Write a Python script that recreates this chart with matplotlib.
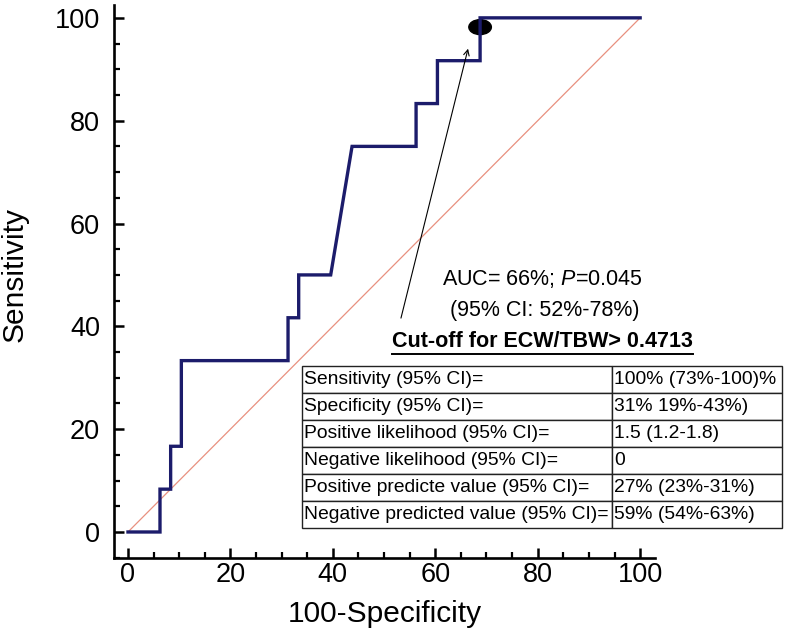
import matplotlib
matplotlib.use("Agg")
import matplotlib.pyplot as plt
from matplotlib.patches import Ellipse
from matplotlib.lines import Line2D
from matplotlib.ticker import MultipleLocator

# -----------------------------
# Data
# -----------------------------
fpr = [0, 6.25, 6.25, 8.33, 8.33, 10.42, 10.42, 31.25, 31.25, 33.33, 33.33,
       39.58, 43.75, 56.25, 56.25, 60.42, 60.42, 68.75, 68.75, 100]
tpr = [0, 0, 8.33, 8.33, 16.67, 16.67, 33.33, 33.33, 41.67, 41.67, 50,
       50, 75, 75, 83.33, 83.33, 91.67, 91.67, 100, 100]

ref_line = [0, 100]
cutoff_point = (68.75, 98.2)

auc_text = "AUC= 66%; $\\mathit{P}$=0.045"
ci_text = "(95% CI: 52%-78%)"
cutoff_text = "Cut-off for ECW/TBW> 0.4713"

row_labels = ["Sensitivity (95% CI)=", "Specificity (95% CI)=",
              "Positive likelihood (95% CI)=", "Negative likelihood (95% CI)=",
              "Positive predicte value (95% CI)=",
              "Negative predicted value (95% CI)="]
row_values = ["100% (73%-100)%", "31% 19%-43%)", "1.5 (1.2-1.8)", "0",
              "27% (23%-31%)", "59% (54%-63%)"]

# -----------------------------
# Style
# -----------------------------
plt.rcParams["font.family"] = ["Liberation Sans", "DejaVu Sans"]
plt.rcParams["mathtext.fontset"] = "custom"
plt.rcParams["mathtext.rm"] = "Liberation Sans"
plt.rcParams["mathtext.it"] = "Liberation Sans:italic"

W, H = 788, 636
fig = plt.figure(figsize=(W / 100, H / 100), dpi=100)
ax = fig.add_axes([114 / W, 1 - 558 / H, 541 / W, 553 / H])

ax.plot(ref_line, ref_line, color="#e8907f", lw=0.9, zorder=2)
ax.plot(fpr, tpr, color="#1c1c6b", lw=2.4, zorder=3, solid_joinstyle="miter")
ax.add_patch(Ellipse(cutoff_point, 4.4, 2.9, color="black", zorder=2.5))

ax.annotate("", xy=(66.4, 94.0), xytext=(53.3, 41.6),
            arrowprops=dict(arrowstyle="->", lw=0.8, color="black",
                            shrinkA=0, shrinkB=0))

for s in ["top", "right"]:
    ax.spines[s].set_visible(False)
for s in ["left", "bottom"]:
    ax.spines[s].set_linewidth(1.9)

ax.xaxis.set_major_locator(MultipleLocator(20))
ax.xaxis.set_minor_locator(MultipleLocator(5))
ax.yaxis.set_major_locator(MultipleLocator(20))
ax.yaxis.set_minor_locator(MultipleLocator(5))
ax.tick_params(which="major", direction="in", length=7.5, width=1.8,
               labelsize=19.5)
ax.tick_params(axis="x", which="major", pad=3)
ax.tick_params(axis="y", which="major", pad=10)
ax.tick_params(which="minor", direction="in", length=4.5, width=1.6)
ax.set_xlim(-2.73, 102.9)
ax.set_ylim(-5.06, 102.5)

ax.set_xlabel("100-Specificity", fontsize=21.5)
ax.set_ylabel("Sensitivity", fontsize=21.5)
ax.xaxis.set_label_coords(0.5, (558 - 600) / 553)
ax.yaxis.set_label_coords((29 - 114) / 541, (558 - 274) / 553)

# annotation text
ax.text(80.9, 49.2, auc_text, fontsize=15.5, ha="center", va="center")
ax.text(81.4, 43.0, ci_text, fontsize=15.5, ha="center", va="center")
cut = ax.text(80.9, 37.0, cutoff_text, fontsize=15.5, fontweight="bold",
              ha="center", va="center")

# results table
cells = [[a, b] for a, b in zip(row_labels, row_values)]
tbl = ax.table(cellText=cells, cellLoc="left", colWidths=[310, 170],
               bbox=[(302 - 114) / 541, (558 - 528) / 553, 480 / 541, 162 / 553])
tbl.auto_set_font_size(False)
tbl.set_fontsize(13.9)
tbl.set_clip_on(False)
for (r, c), cell in tbl.get_celld().items():
    cell.PAD = 0.008 if c == 0 else 0.012
    cell.set_linewidth(1.0)
    cell.set_edgecolor("#222222")
    cell.set_clip_on(False)

# underline the cut-off heading
fig.canvas.draw()
bb = cut.get_window_extent().transformed(fig.transFigure.inverted())
fig.add_artist(Line2D([bb.x0, bb.x1], [bb.y0 - 0.002, bb.y0 - 0.002],
                      color="black", lw=1.4, transform=fig.transFigure))

fig.savefig("out.png", dpi=100)
